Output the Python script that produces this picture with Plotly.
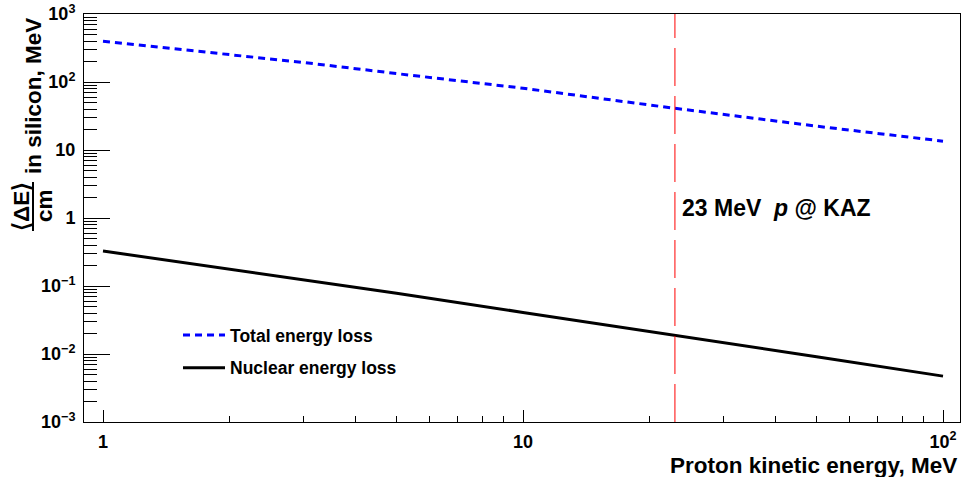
import numpy as np
import plotly.graph_objects as go

# ---- data ----
energy_mev = [1, 2, 3, 5, 10, 23, 50, 100]
total_loss = [397, 253, 194, 133, 81, 41, 22.4, 13.5]
nuclear_loss = [0.327, 0.178, 0.125, 0.078, 0.0409, 0.019, 0.0091, 0.00473]
kaz_energy = 23
y_span = [1e-3, 1e3]

y_tickvals = [1e-3, 1e-2, 1e-1, 1, 10, 100, 1000]
y_ticktext = ["10<sup>\u22123</sup>", "10<sup>\u22122</sup>", "10<sup>\u22121</sup>", "1", "10",
              "10<sup>2</sup>", "10<sup>3</sup>"]
x_tickvals = [1, 10, 100]
x_ticktext = ["1", "10", "10<sup>2</sup>"]

FONT = "Liberation Sans, Arial, Helvetica, sans-serif"

# plot area geometry (pixels)
W, H = 961, 477
L, R, T, B = 84, 1, 14, 55
PW, PH = W - L - R, H - T - B

def px_x(px):
    return (px - L) / PW

def px_y(py):
    return (H - B - py) / PH

fig = go.Figure()

fig.add_trace(go.Scatter(
    x=energy_mev, y=total_loss, mode="lines", name="Total energy loss",
    line=dict(color="#0000ff", width=3, dash="7px,5px"), legendgroup="a"))
fig.add_trace(go.Scatter(
    x=energy_mev, y=nuclear_loss, mode="lines", name="Nuclear energy loss",
    line=dict(color="black", width=3), legendgroup="b"))
fig.add_trace(go.Scatter(
    x=[kaz_energy, kaz_energy], y=y_span, mode="lines", showlegend=False,
    line=dict(color="#ff0000", width=1, dash="38px,10px")))

axis_common = dict(
    type="log", showgrid=False, zeroline=False, showline=True, linecolor="black",
    linewidth=1, mirror=True, ticks="inside", tickcolor="black", tickwidth=1,
    tickmode="array",
    tickfont=dict(family=FONT, size=18, color="black", weight="bold"),
)

fig.update_layout(
    width=W, height=H,
    margin=dict(l=L, r=R, t=T, b=B),
    paper_bgcolor="white", plot_bgcolor="white",
    font=dict(family=FONT, color="black"),
    xaxis=dict(axis_common, range=[-19 / 420, 2 + 17 / 420], tickvals=x_tickvals,
               ticktext=x_ticktext, ticklen=12, ticklabelstandoff=3,
               minor=dict(ticks="inside", ticklen=6, dtick="D1", tickcolor="black",
                          tickwidth=1, showgrid=False)),
    yaxis=dict(axis_common, range=[-3, 3], tickvals=y_tickvals, ticktext=y_ticktext,
               ticklen=26, ticklabelstandoff=4,
               minor=dict(ticks="inside", ticklen=13, dtick="D1", tickcolor="black",
                          tickwidth=1, showgrid=False)),
    showlegend=True,
    legend=dict(x=px_x(178), y=px_y(317), xanchor="left", yanchor="top",
                bgcolor="rgba(0,0,0,0)", tracegroupgap=7, itemwidth=42,
                font=dict(family=FONT, size=17.5, color="black", weight="bold")),
)

ann_font = dict(family=FONT, size=22.5, color="black", weight="bold")

# x-axis title
fig.add_annotation(text="Proton kinetic energy, MeV", xref="paper", yref="paper",
                   x=px_x(959), y=px_y(465), xanchor="right", yanchor="middle",
                   showarrow=False, font=ann_font)
# y-axis title pieces
fig.add_annotation(text="in silicon, MeV", xref="paper", yref="paper",
                   x=px_x(34), y=px_y(96), xanchor="center", yanchor="middle",
                   textangle=-90, showarrow=False, font=ann_font)
fig.add_annotation(text="\u27e8\u0394E\u27e9", xref="paper", yref="paper",
                   x=px_x(21), y=px_y(207), xanchor="center", yanchor="middle",
                   textangle=-90, showarrow=False, font=ann_font)
fig.add_annotation(text="cm", xref="paper", yref="paper",
                   x=px_x(44), y=px_y(206), xanchor="center", yanchor="middle",
                   textangle=-90, showarrow=False, font=ann_font)
fig.add_shape(type="line", xref="paper", yref="paper",
              x0=px_x(33), x1=px_x(33), y0=px_y(182), y1=px_y(231),
              line=dict(color="black", width=2))

# KAZ label
fig.add_annotation(text="23 MeV\u00a0\u00a0<i>p</i> @ KAZ", xref="paper", yref="paper",
                   x=px_x(680), y=px_y(208), xanchor="left", yanchor="middle",
                   showarrow=False, font=dict(family=FONT, size=23, color="black", weight="bold"))

fig.write_html("out.html")
